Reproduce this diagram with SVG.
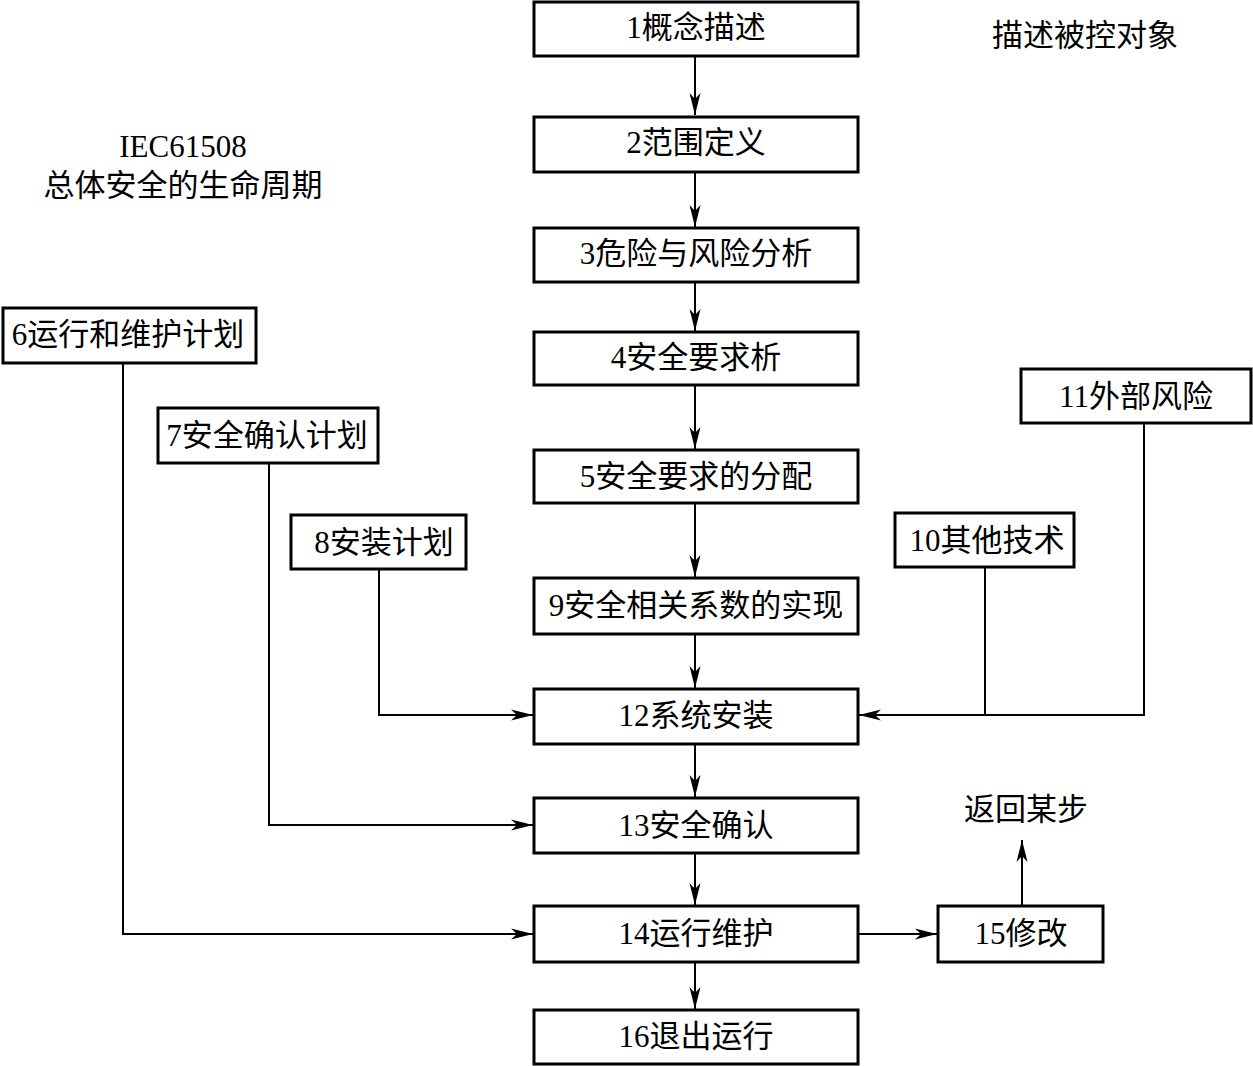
<svg xmlns="http://www.w3.org/2000/svg" width="1253" height="1066" viewBox="0 0 1253 1066">
<style>
.box{fill:#fff;stroke:#000;stroke-width:3}
.t{font-family:"Liberation Serif","Noto Sans CJK SC",serif;font-size:31px;fill:#000;text-anchor:middle}
.c{fill:none;stroke:#000;stroke-width:2}
</style>
<defs>
<marker id="ah" markerWidth="22" markerHeight="12" refX="22" refY="6" orient="auto" markerUnits="userSpaceOnUse">
<path d="M0,0.5 L22,6 L0,11.5 L6,6 Z" fill="#000"/>
</marker>
</defs>
<rect width="1253" height="1066" fill="#fff"/>
<g id="connectors">
<line class="c" x1="695" y1="56" x2="695" y2="115" marker-end="url(#ah)"/>
<line class="c" x1="695" y1="172" x2="695" y2="227" marker-end="url(#ah)"/>
<line class="c" x1="695" y1="282" x2="695" y2="331" marker-end="url(#ah)"/>
<line class="c" x1="695" y1="385" x2="695" y2="449" marker-end="url(#ah)"/>
<line class="c" x1="695" y1="503" x2="695" y2="577" marker-end="url(#ah)"/>
<line class="c" x1="695" y1="634" x2="695" y2="688" marker-end="url(#ah)"/>
<line class="c" x1="695" y1="744" x2="695" y2="797" marker-end="url(#ah)"/>
<line class="c" x1="695" y1="853" x2="695" y2="905" marker-end="url(#ah)"/>
<line class="c" x1="695" y1="962" x2="695" y2="1009" marker-end="url(#ah)"/>
<polyline class="c" points="379,569 379,715 533,715" marker-end="url(#ah)"/>
<polyline class="c" points="269,463 269,825 533,825" marker-end="url(#ah)"/>
<polyline class="c" points="123,363 123,934 533,934" marker-end="url(#ah)"/>
<polyline class="c" points="985,567 985,715 859,715" marker-end="url(#ah)"/>
<polyline class="c" points="1144,423 1144,715 985,715"/>
<line class="c" x1="859" y1="934" x2="937" y2="934" marker-end="url(#ah)"/>
<line class="c" x1="1022" y1="906" x2="1022" y2="840" marker-end="url(#ah)"/>
</g>
<g id="n1"><rect class="box" x="534" y="2" width="324" height="54"/><text class="t" x="696" y="38">1概念描述</text></g>
<g id="n2"><rect class="box" x="534" y="117" width="324" height="55"/><text class="t" x="696" y="153">2范围定义</text></g>
<g id="n3"><rect class="box" x="534" y="228" width="324" height="54"/><text class="t" x="696" y="264">3危险与风险分析</text></g>
<g id="n4"><rect class="box" x="534" y="332" width="324" height="53"/><text class="t" x="696" y="368">4安全要求析</text></g>
<g id="n5"><rect class="box" x="534" y="450" width="324" height="53"/><text class="t" x="696" y="487">5安全要求的分配</text></g>
<g id="n9"><rect class="box" x="534" y="578" width="324" height="56"/><text class="t" x="696" y="616">9安全相关系数的实现</text></g>
<g id="n12"><rect class="box" x="534" y="689" width="324" height="55"/><text class="t" x="696" y="726">12系统安装</text></g>
<g id="n13"><rect class="box" x="534" y="798" width="324" height="55"/><text class="t" x="696" y="836">13安全确认</text></g>
<g id="n14"><rect class="box" x="534" y="906" width="324" height="56"/><text class="t" x="696" y="944">14运行维护</text></g>
<g id="n16"><rect class="box" x="534" y="1010" width="324" height="54"/><text class="t" x="696" y="1047">16退出运行</text></g>
<g id="n6"><rect class="box" x="3" y="308" width="253" height="55"/><text class="t" x="128" y="345">6运行和维护计划</text></g>
<g id="n7"><rect class="box" x="158" y="408" width="220" height="55"/><text class="t" x="267" y="446">7安全确认计划</text></g>
<g id="n8"><rect class="box" x="291" y="515" width="175" height="54"/><text class="t" x="384" y="553">8安装计划</text></g>
<g id="n10"><rect class="box" x="895" y="513" width="179" height="54"/><text class="t" x="987" y="551">10其他技术</text></g>
<g id="n11"><rect class="box" x="1021" y="369" width="230" height="54"/><text class="t" x="1136" y="407">11外部风险</text></g>
<g id="n15"><rect class="box" x="938" y="906" width="165" height="56"/><text class="t" x="1021" y="944">15修改</text></g>
<g id="labels">
<text class="t" x="1085" y="46">描述被控对象</text>
<text class="t" x="183" y="157">IEC61508</text>
<text class="t" x="183" y="196">总体安全的生命周期</text>
<text class="t" x="1026" y="820">返回某步</text>
</g>
</svg>
